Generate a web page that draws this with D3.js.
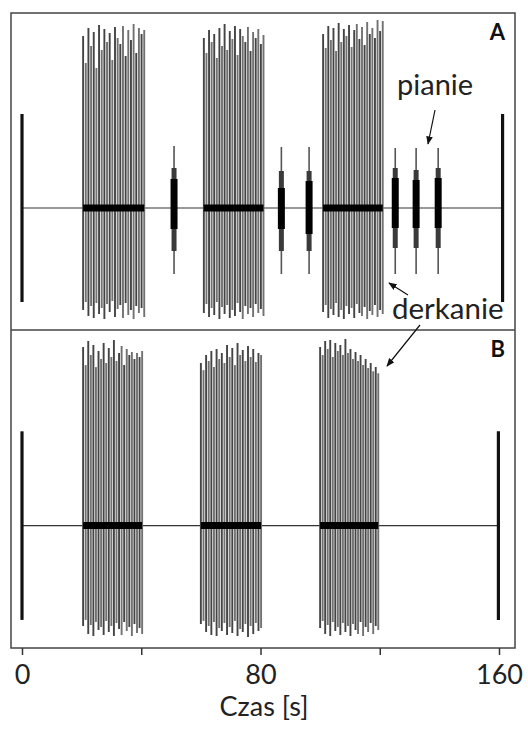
<!DOCTYPE html>
<html>
<head>
<meta charset="utf-8">
<script src="https://cdn.jsdelivr.net/npm/d3@7"></script>
<style>
  html, body { margin: 0; padding: 0; background: #fff; }
  svg { display: block; }
  text { font-family: Lato, "Open Sans", sans-serif; }
</style>
</head>
<body>
<svg id="chart" width="528" height="729"></svg>
<script>
// ---- data -------------------------------------------------------------
const timeDomain = [0, 160];
const tickValues = [0, 40, 80, 120, 160];
const tickLabels = ["0", "", "80", "", "160"];
const axisTitle = "Czas [s]";
const panelNames = ["A", "B"];

// calibration bar (relative amplitude) at start and end of each recording
const calibTimesA = [0, 161.2];
const calibTimesB = [0, 159.8];
const calibRange = [-0.94, 0.94];

// derkanie bursts: [start s, end s]
const burstsA = [[20.5, 41.0], [61.0, 81.0], [101.0, 121.0]];
const burstsB = [[20.5, 40.3], [60.0, 80.2], [100.0, 119.5]];

// pulse peaks within each burst (relative amplitude, up / down)
const upA1   = [1.72,1.45,1.80,1.62,1.76,1.40,1.83,1.58,1.79,1.66,1.75,1.48,1.81,1.70,1.64,1.82,1.52,1.78,1.68,1.84,1.55,1.80,1.74,1.78];
const downA1 = [-1.02,-0.94,-1.08,-0.98,-1.10,-0.95,-1.06,-1.00,-1.11,-0.96,-1.04,-0.93,-1.09,-1.01,-0.97,-1.10,-0.95,-1.07,-1.02,-1.11,-0.98,-1.05,-1.00,-1.09];
const upA2   = [1.70,1.55,1.78,1.66,1.74,1.50,1.80,1.62,1.84,1.58,1.77,1.69,1.82,1.53,1.79,1.72,1.66,1.81,1.57,1.76,1.70,1.79,1.64,1.73];
const downA2 = [-1.05,-0.96,-1.09,-1.00,-1.07,-0.94,-1.11,-0.99,-1.06,-0.97,-1.10,-1.02,-1.08,-0.95,-1.04,-1.11,-0.98,-1.06,-1.00,-1.09,-0.96,-1.05,-1.01,-1.08];
const upA3   = [1.74,1.60,1.82,1.68,1.80,1.57,1.85,1.66,1.79,1.72,1.83,1.61,1.78,1.84,1.69,1.81,1.63,1.86,1.74,1.80,1.70,1.88,1.77,1.87];
const downA3 = [-1.04,-0.97,-1.10,-1.01,-1.07,-0.95,-1.09,-1.02,-1.11,-0.98,-1.06,-1.00,-1.10,-0.96,-1.05,-1.08,-0.99,-1.11,-1.03,-1.07,-0.97,-1.09,-1.02,-1.06];
const upB1   = [1.78,1.60,1.84,1.70,1.80,1.58,1.74,1.66,1.82,1.62,1.77,1.68,1.85,1.64,1.72,1.79,1.60,1.76,1.70,1.73,1.66,1.72,1.68,1.74];
const downB1 = [-1.00,-0.94,-1.08,-0.99,-1.10,-0.96,-1.04,-1.01,-1.09,-0.95,-1.06,-1.00,-1.10,-0.97,-1.03,-1.09,-0.96,-1.05,-1.01,-1.10,-0.98,-1.07,-1.02,-1.08];
const upB2   = [1.62,1.55,1.70,1.64,1.74,1.58,1.76,1.66,1.72,1.62,1.80,1.68,1.77,1.60,1.82,1.70,1.75,1.64,1.79,1.68,1.76,1.63,1.72,1.70];
const downB2 = [-0.98,-0.95,-1.06,-1.00,-1.09,-0.96,-1.10,-1.02,-1.05,-0.97,-1.09,-1.01,-1.07,-0.95,-1.10,-1.03,-1.06,-0.98,-1.11,-1.00,-1.08,-0.97,-1.05,-1.02];
const upB3   = [1.78,1.70,1.84,1.76,1.85,1.68,1.82,1.74,1.80,1.70,1.86,1.72,1.76,1.66,1.73,1.64,1.70,1.60,1.66,1.57,1.62,1.54,1.58,1.52];
const downB3 = [-1.02,-0.95,-1.08,-0.99,-1.10,-0.96,-1.05,-1.01,-1.09,-0.97,-1.06,-1.00,-1.10,-0.98,-1.04,-1.08,-0.96,-1.10,-1.01,-1.06,-0.97,-1.08,-1.00,-1.04];

// pianie calls (panel A only): time, outer envelope, mid envelope, core envelope
const pianieTimes   = [51.0, 87.0, 96.3, 125.2, 132.2, 139.6];
const pianieUp      = [0.62, 0.61, 0.61, 0.60, 0.60, 0.60];
const pianieDown    = [-0.66, -0.66, -0.66, -0.66, -0.66, -0.66];
const pianieMidUp   = [0.40, 0.37, 0.37, 0.40, 0.38, 0.40];
const pianieMidDown = [-0.43, -0.43, -0.43, -0.40, -0.40, -0.40];
const pianieCoreUp  = [0.29, 0.20, 0.27, 0.30, 0.28, 0.30];
const pianieCoreDown= [-0.21, -0.21, -0.26, -0.20, -0.20, -0.20];

// ---- layout -----------------------------------------------------------
const svg = d3.select("#chart");
const W = 528, H = 729;
const frame = { left: 11, right: 515, top: 13, mid: 330, bottom: 648 };

svg.append("rect").attr("width", W).attr("height", H).attr("fill", "#fff");

const x = d3.scaleLinear().domain(timeDomain).range([22, 499]);

function drawPanel(top, bottom, bursts, ups, downs, calibTimes, name, withPianie) {
  const y = d3.scaleLinear().domain([-1.22, 1.95]).range([bottom, top]);
  const g = svg.append("g");

  // baseline
  g.append("line")
    .attr("x1", x(calibTimes[0])).attr("x2", x(calibTimes[1]))
    .attr("y1", y(0)).attr("y2", y(0))
    .attr("stroke", "#333").attr("stroke-width", 1.2);

  // derkanie pulses
  bursts.forEach((b, i) => {
    const up = ups[i], down = downs[i];
    const n = up.length;
    const t = d3.scaleLinear().domain([0, n - 1]).range(b);
    const pulses = up.map((u, k) => ({ t: t(k), u, d: down[k], k }));
    g.selectAll(null).data(pulses).enter().append("line")
      .attr("x1", p => x(p.t)).attr("x2", p => x(p.t))
      .attr("y1", p => y(p.d)).attr("y2", p => y(p.u))
      .attr("stroke", p => (p.k % 2 ? "#717171" : "#444"))
      .attr("stroke-width", 1.9);
    // dense centre band
    g.append("line")
      .attr("x1", x(b[0])).attr("x2", x(b[1]))
      .attr("y1", y(0)).attr("y2", y(0))
      .attr("stroke", "#000").attr("stroke-width", 7);
  });

  // pianie calls
  if (withPianie) {
    const calls = pianieTimes.map((t, i) => ({ t, i }));
    const layers = [
      { hi: pianieUp, lo: pianieDown, w: 1.6, c: "#555" },
      { hi: pianieMidUp, lo: pianieMidDown, w: 5, c: "#3a3a3a" },
      { hi: pianieCoreUp, lo: pianieCoreDown, w: 7, c: "#000" }
    ];
    layers.forEach(L => {
      g.selectAll(null).data(calls).enter().append("line")
        .attr("x1", d => x(d.t)).attr("x2", d => x(d.t))
        .attr("y1", d => y(L.lo[d.i])).attr("y2", d => y(L.hi[d.i]))
        .attr("stroke", L.c).attr("stroke-width", L.w);
    });
  }

  // calibration bars
  g.selectAll(null).data(calibTimes).enter().append("line")
    .attr("x1", d => x(d)).attr("x2", d => x(d))
    .attr("y1", y(calibRange[0])).attr("y2", y(calibRange[1]))
    .attr("stroke", "#111").attr("stroke-width", 3.2);

  // panel letter
  g.append("text")
    .attr("x", 505).attr("y", top + 27)
    .attr("text-anchor", "end")
    .attr("font-size", 22).attr("font-weight", 700).attr("fill", "#111")
    .text(name);
  return y;
}

drawPanel(frame.top, frame.mid, burstsA, [upA1, upA2, upA3], [downA1, downA2, downA3], calibTimesA, panelNames[0], true);
drawPanel(frame.mid, frame.bottom, burstsB, [upB1, upB2, upB3], [downB1, downB2, downB3], calibTimesB, panelNames[1], false);

// frame and divider
svg.append("rect")
  .attr("x", frame.left).attr("y", frame.top)
  .attr("width", frame.right - frame.left).attr("height", frame.bottom - frame.top)
  .attr("fill", "none").attr("stroke", "#444").attr("stroke-width", 1.5);
svg.append("line")
  .attr("x1", frame.left).attr("x2", frame.right)
  .attr("y1", frame.mid).attr("y2", frame.mid)
  .attr("stroke", "#444").attr("stroke-width", 1.5);

// time axis
const axis = d3.axisBottom(x)
  .tickValues(tickValues)
  .tickFormat((d, i) => tickLabels[i])
  .tickSize(7).tickPadding(10);
const ax = svg.append("g").attr("transform", `translate(0,${frame.bottom})`).call(axis);
ax.select(".domain").remove();
ax.selectAll(".tick line").attr("stroke", "#333").attr("stroke-width", 1.5);
ax.selectAll(".tick text")
  .attr("font-size", 27).attr("fill", "#222")
  .style("font-family", "Lato, 'Open Sans', sans-serif");

svg.append("text")
  .attr("x", 264).attr("y", 716)
  .attr("text-anchor", "middle")
  .attr("font-size", 27).attr("fill", "#222")
  .text(axisTitle);

// annotations
const defs = svg.append("defs");
defs.append("marker")
  .attr("id", "head").attr("viewBox", "0 0 10 10")
  .attr("refX", 9).attr("refY", 5)
  .attr("markerWidth", 7).attr("markerHeight", 7)
  .attr("orient", "auto")
  .append("path").attr("d", "M0,1 L10,5 L0,9 Z").attr("fill", "#111");

const notes = [
  { text: "pianie", x: 397, y: 95, size: 29 },
  { text: "derkanie", x: 392, y: 319, size: 29.5 }
];
svg.selectAll(null).data(notes).enter().append("text")
  .attr("x", d => d.x).attr("y", d => d.y)
  .attr("font-size", d => d.size).attr("fill", "#222")
  .text(d => d.text);

const arrows = [
  [435, 110, 428, 144],
  [408, 295, 389, 283],
  [420, 325, 387, 366]
];
svg.selectAll(null).data(arrows).enter().append("line")
  .attr("x1", d => d[0]).attr("y1", d => d[1])
  .attr("x2", d => d[2]).attr("y2", d => d[3])
  .attr("stroke", "#111").attr("stroke-width", 1.2)
  .attr("marker-end", "url(#head)");
</script>
</body>
</html>
